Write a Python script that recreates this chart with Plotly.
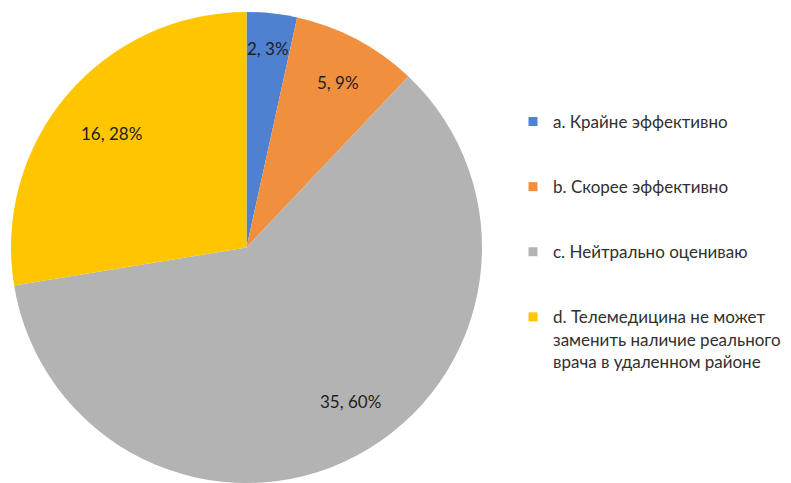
import math
import plotly.graph_objects as go

categories = [
    "a. Крайне эффективно",
    "b. Скорее эффективно",
    "c. Нейтрально оцениваю",
    "d. Телемедицина не может<br>заменить наличие реального<br>врача в удаленном районе",
]
values = [2, 5, 35, 16]
colors = ["#4F81D0", "#F0903E", "#B3B3B3", "#FFC600"]

W, H = 791, 483
font_family = "Lato, 'Open Sans', sans-serif"

# pie placement (pixels)
px_left, px_right, px_top = 11, 482, 12
dom_x = [px_left / W, px_right / W]
dom_y = [0, 1 - px_top / H]
radius = (px_right - px_left) / 2
cx = (px_left + px_right) / 2
cy = px_top + radius

# label placement style: distance (fraction of radius) and angular nudge (deg)
label_frac = [0.85, 0.80, 0.79, 0.75]
label_nudge = [0, 1, -6, 0]

fig = go.Figure()
fig.add_trace(go.Pie(
    labels=categories,
    values=values,
    sort=False,
    direction="clockwise",
    rotation=0,
    marker=dict(colors=colors, line=dict(width=0)),
    textinfo="none",
    showlegend=False,
    hoverinfo="label+value+percent",
    domain=dict(x=dom_x, y=dom_y),
))

total = sum(values)
cum = 0
for v, f, nd in zip(values, label_frac, label_nudge):
    theta = 2 * math.pi * (cum + v / 2) / total + math.radians(nd)
    cum += v
    x_px = cx + f * radius * math.sin(theta)
    y_px = cy - f * radius * math.cos(theta)
    pct = round(100 * v / total)
    fig.add_annotation(
        x=x_px / W, y=1 - y_px / H, xref="paper", yref="paper",
        text=f"{v}, {pct}%", showarrow=False,
        font=dict(family=font_family, size=17, color="#1e1e1e"),
        xanchor="center", yanchor="middle",
    )

# legend entries (one group each so they can be spaced apart)
for i, (cat, col) in enumerate(zip(categories, colors)):
    fig.add_trace(go.Scatter(
        x=[None], y=[None], mode="markers", name=cat,
        marker=dict(symbol="square", size=9, color=col),
        legendgroup=f"g{i}", showlegend=True, hoverinfo="skip",
    ))

fig.update_layout(
    width=W, height=H,
    margin=dict(l=0, r=0, t=0, b=0),
    paper_bgcolor="white", plot_bgcolor="white",
    xaxis=dict(visible=False), yaxis=dict(visible=False),
    legend=dict(
        x=513 / W, y=1 - 104 / H, xanchor="left", yanchor="top",
        font=dict(family=font_family, size=17, color="#303030"),
        tracegroupgap=40, valign="top", bgcolor="rgba(0,0,0,0)",
    ),
)

fig.write_html("out.html", config={"displayModeBar": False},
               post_script="document.body.style.margin='0';")
